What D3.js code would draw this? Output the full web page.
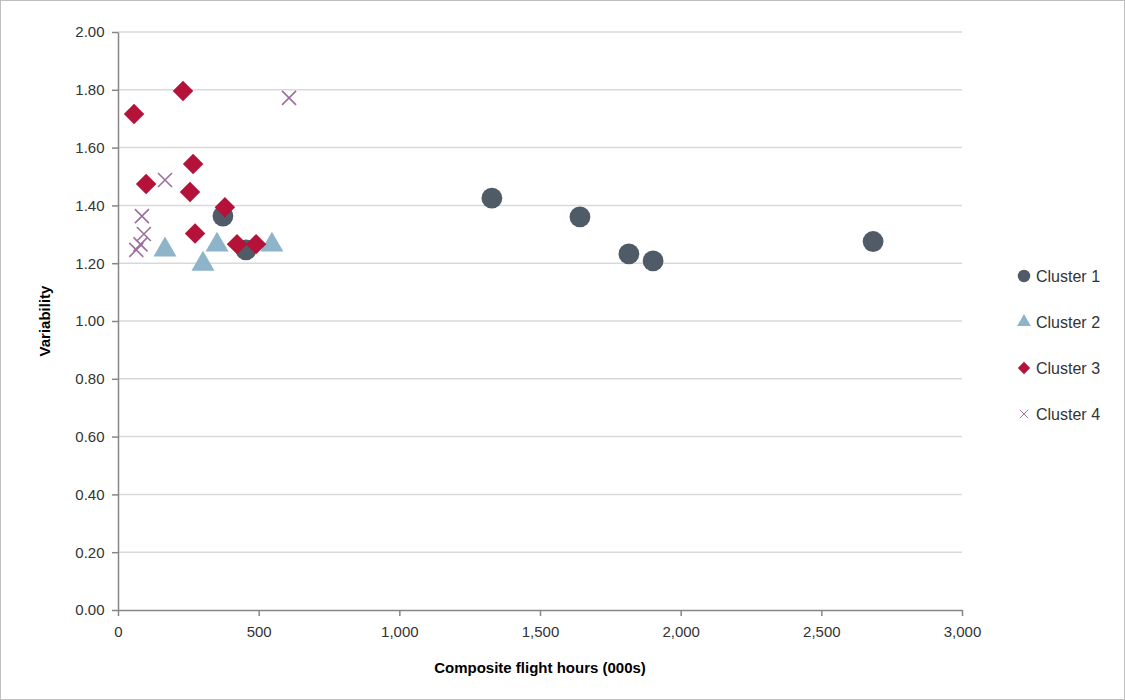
<!DOCTYPE html>
<html lang="en">
<head>
<meta charset="UTF-8">
<script src="https://d3js.org/d3.v7.min.js"></script>
<style>
  body { margin: 0; background: #fff; font-family: "Liberation Sans", Arial, sans-serif; }
  svg { display: block; }
  .grid line { stroke: #d9d9d9; stroke-width: 1.5; }
  .axis text { font-size: 15px; fill: #333; }
  .axis path, .axis line { stroke: #868686; stroke-width: 1.5; }
  .title { font-size: 15px; font-weight: bold; fill: #000; }
  .legend text { font-size: 16px; fill: #333; }
</style>
</head>
<body>
<svg id="chart" width="1125" height="700"></svg>
<script>
// Cluster data: [flight hours (000s), variability]
const cluster1 = [[373,1.363],[455,1.246],[1329,1.425],[1642,1.36],[1816,1.232],[1902,1.208],[2684,1.275]];
const cluster2 = [[167,1.253],[352,1.27],[302,1.204],[547,1.27]];
const cluster3 = [[57,1.716],[231,1.796],[100,1.474],[267,1.543],[256,1.446],[380,1.394],[274,1.303],[423,1.266],[491,1.266]];
const cluster4 = [[608,1.772],[167,1.488],[85,1.363],[92,1.301],[80,1.265],[65,1.246]];
const seriesNames = ["Cluster 1", "Cluster 2", "Cluster 3", "Cluster 4"];
const xTicks = [0, 500, 1000, 1500, 2000, 2500, 3000];
const yTicks = [0, 0.2, 0.4, 0.6, 0.8, 1.0, 1.2, 1.4, 1.6, 1.8, 2.0];

const svg = d3.select("#chart");
svg.append("rect").attr("x", 0.5).attr("y", 0.5).attr("width", 1124).attr("height", 699)
  .attr("fill", "none").attr("stroke", "#bfbfbf");

const margin = { left: 118, right: 163, top: 32, bottom: 90 };
const x = d3.scaleLinear().domain([0, 3000]).range([margin.left, 1125 - margin.right]);
const y = d3.scaleLinear().domain([0, 2]).range([700 - margin.bottom, margin.top]);

svg.append("g").attr("class", "grid").selectAll("line").data(yTicks.slice(1)).join("line")
  .attr("x1", x(0)).attr("x2", x(3000)).attr("y1", d => y(d)).attr("y2", d => y(d));

svg.append("g").attr("class", "axis").attr("transform", `translate(0,${y(0)})`)
  .call(d3.axisBottom(x).tickValues(xTicks).tickSize(6).tickSizeOuter(0).tickFormat(d3.format(",")))
  .call(g => g.selectAll("text").attr("dy", "1.2em"));
svg.append("g").attr("class", "axis").attr("transform", `translate(${x(0)},0)`)
  .call(d3.axisLeft(y).tickValues(yTicks).tickSize(6).tickSizeOuter(0).tickFormat(d3.format(".2f")))
  .call(g => g.selectAll("text").attr("dx", "-0.3em"));

svg.append("text").attr("class", "title").attr("x", x(1500)).attr("y", 673)
  .attr("text-anchor", "middle").text("Composite flight hours (000s)");
svg.append("text").attr("class", "title").attr("transform", `translate(50,${y(1)}) rotate(-90)`)
  .attr("text-anchor", "middle").text("Variability");

const styles = [
  { color: "#4f5b66", sym: d3.symbolCircle, size: 340, rot: 0 },
  { color: "#8db4c9", sym: d3.symbolTriangle, size: 230, rot: 0 },
  { color: "#b5123a", sym: d3.symbolSquare, size: 210, rot: 45 },
  { color: "#9b6f9e", sym: null, size: 7, rot: 0 }
];
const drawMark = (g, i) => {
  const s = styles[i];
  if (s.sym) {
    g.append("path").attr("d", d3.symbol().type(s.sym).size(s.size)())
      .attr("transform", `rotate(${s.rot})`).attr("fill", s.color);
  } else {
    const r = s.size;
    g.append("path").attr("d", `M${-r},${-r}L${r},${r}M${-r},${r}L${r},${-r}`)
      .attr("stroke", s.color).attr("stroke-width", 1.6).attr("fill", "none");
  }
};

[cluster1, cluster2, cluster3, cluster4].forEach((data, i) => {
  data.forEach(d => {
    const g = svg.append("g").attr("transform", `translate(${x(d[0])},${y(d[1])})${i === 1 ? " translate(0,2)" : ""}`);
    drawMark(g, i);
  });
});

const legend = svg.append("g").attr("class", "legend");
seriesNames.forEach((name, i) => {
  const yy = 276 + i * 46;
  const g = legend.append("g").attr("transform", `translate(1024,${yy}) scale(0.6)`);
  drawMark(g, i);
  legend.append("text").attr("x", 1036).attr("y", yy).attr("dy", "0.35em").text(name);
});
</script>
</body>
</html>
